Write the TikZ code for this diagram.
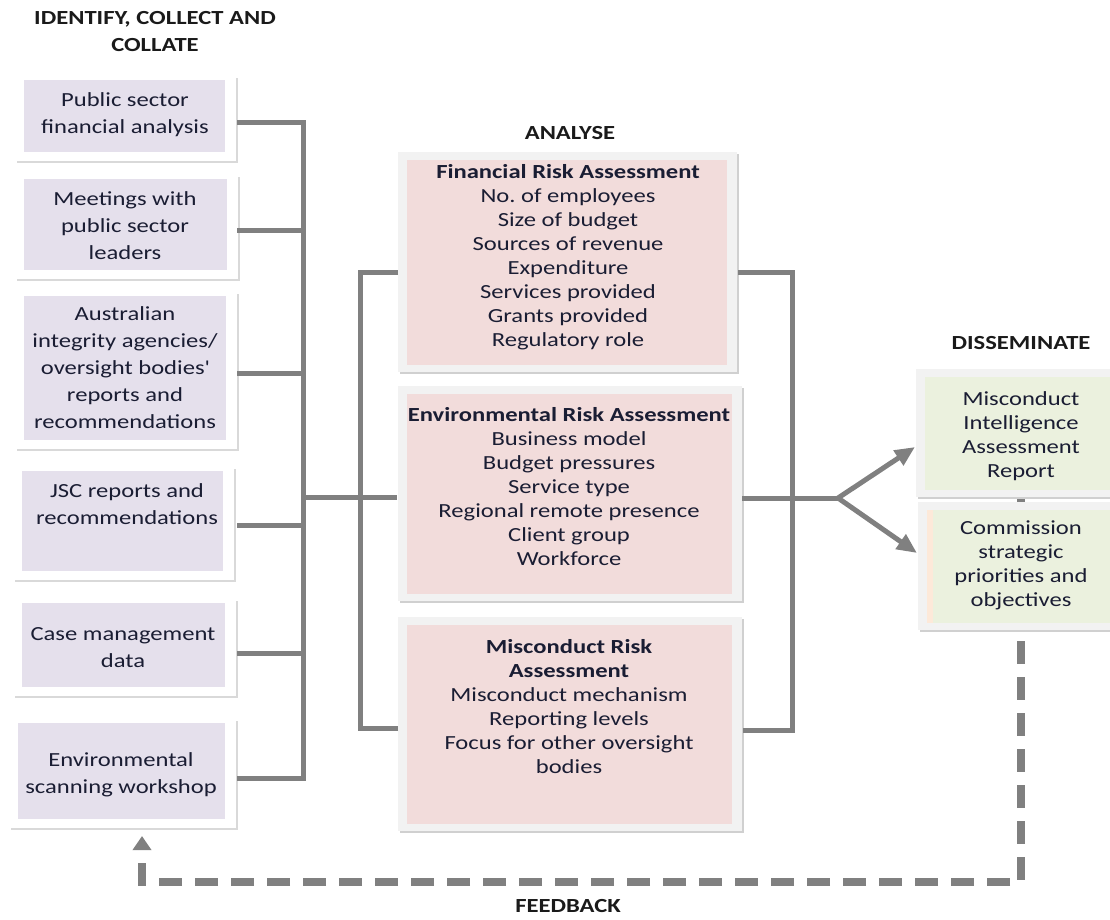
\documentclass[tikz,border=0pt]{standalone}
\usepackage{fontspec}
\setmainfont{Carlito}[FakeStretch=1.23]
\usetikzlibrary{arrows.meta,calc,backgrounds}
\pgfdeclarelayer{bottom}
\pgfsetlayers{bottom,background,main}
\definecolor{lav}{HTML}{E5E0EC}
\definecolor{pinkf}{HTML}{F2DCDB}
\definecolor{greenf}{HTML}{EBF1DE}
\definecolor{orangef}{HTML}{FDE9D9}
\definecolor{framec}{HTML}{F2F2F2}
\definecolor{shadc}{HTML}{D0D0D0}
\definecolor{lshadc}{HTML}{D9D9D9}
\definecolor{connc}{HTML}{808080}
\definecolor{txtc}{HTML}{1A1D33}
\definecolor{headc}{HTML}{1A1A1A}
\newcommand\myfrmbx[1]{%
  \fill[shadc] ($(#1.north west)+(-7,-6)$) rectangle ($(#1.south east)+(12,9)$);
  \fill[framec] ($(#1.north west)+(-9,-8)$) rectangle ($(#1.south east)+(10,7)$);}
\frenchspacing
\begin{document}
\begin{tikzpicture}[x=1pt,y=-1pt,
  every node/.style={inner sep=0pt,outer sep=0pt,text=txtc},
  lbox/.style={rectangle,fill=lav},
  mbox/.style={rectangle,fill=pinkf},
  dbox/.style={rectangle,fill=greenf},
  ltext/.style={align=center,font=\fontsize{20}{27}\selectfont},
  mtext/.style={align=center,font=\fontsize{20}{24}\selectfont},
  head/.style={align=center,font=\fontsize{20}{27}\selectfont\bfseries,text=headc},
  conn/.style={draw=connc,line width=5pt},
  lshadow/.style={draw=lshadc,line width=2pt},
  fb/.style={draw=connc,line width=8pt,dash pattern=on 23pt off 13pt,dash phase=1pt},
]
\useasboundingbox (0,0) rectangle (1110,919);

% headings
\node[head] (h1) at (155,31.5) {IDENTIFY, COLLECT AND\\COLLATE};
\node[head] (h2) at (570,133) {ANALYSE};
\node[head] (h3) at (1021,343) {DISSEMINATE};
\node[head] (h4) at (568,906) {FEEDBACK};

% left boxes
\node[lbox,minimum width=201pt,minimum height=72pt]  (b1) at (124.5,116) {};
\node[lbox,minimum width=203pt,minimum height=91pt]  (b2) at (125.5,224.5) {};
\node[lbox,minimum width=202pt,minimum height=144pt] (b3) at (125,368) {};
\node[lbox,minimum width=201pt,minimum height=100pt] (b4) at (122.5,521) {};
\node[lbox,minimum width=203pt,minimum height=84pt]  (b5) at (123.5,645) {};
\node[lbox,minimum width=207pt,minimum height=96pt]  (b6) at (121.5,771) {};

\node[ltext] (t1) at (125,115) {Public sector\\financial analysis};
\node[ltext] (t2) at (125,226) {Meetings with\\public sector\\leaders};
\node[ltext] (t3) at (125,368) {Australian\\integrity agencies/\\oversight bodies\textquotesingle\\reports and\\recommendations};
\node[ltext] (t4) at (127,504) {JSC reports and\\recommendations};
\node[ltext] (t5) at (123,648) {Case management\\data};
\node[ltext] (t6) at (121,775) {Environmental\\scanning workshop};

% middle boxes
\node[mbox,minimum width=320pt,minimum height=205pt] (f1) at (567,262.5) {};
\node[mbox,minimum width=325pt,minimum height=200pt] (f2) at (569.5,494) {};
\node[mbox,minimum width=325pt,minimum height=199pt] (f3) at (569.5,724.5) {};

\node[mtext] (m1) at (568,257) {\textbf{Financial Risk Assessment}\\No. of employees\\Size of budget\\Sources of revenue\\Expenditure\\Services provided\\Grants provided\\Regulatory role};
\node[mtext] (m2) at (569,487) {\textbf{Environmental Risk Assessment}\\Business model\\Budget pressures\\Service type\\Regional remote presence\\Client group\\Workforce};
\node[mtext] (m3) at (569,707) {\textbf{Misconduct Risk}\\\textbf{Assessment}\\Misconduct mechanism\\Reporting levels\\Focus for other oversight\\bodies};

% disseminate boxes
\node[dbox,minimum width=192pt,minimum height=113pt] (d1) at (1021,433.5) {};
\node[dbox,minimum width=188pt,minimum height=113pt] (d2) at (1021,566.5) {};
\fill[orangef] (d2.north west) rectangle ($(d2.south west)+(6,0)$);
\node[mtext] (e1) at (1021,436) {Misconduct\\Intelligence\\Assessment\\Report};
\node[mtext] (e2) at (1021,565) {Commission\\strategic\\priorities and\\objectives};

% frames and shadows
\begin{pgfonlayer}{background}
  \foreach \b in {b1,b2,b3,b4,b5,b6}{
    \draw[lshadow] ($(\b.north east)+(12,-2)$) |- ($(\b.south west)+(-7,10)$);
  }
  \myfrmbx{f1}\myfrmbx{f2}\myfrmbx{f3}
  \myfrmbx{d1}\myfrmbx{d2}
\end{pgfonlayer}

% left connectors
\coordinate (lj) at (303,497);
\draw[conn] ($(b1.east)+(12,6)$) -| (lj) |- ($(b6.east)+(12,7)$);
\draw[conn] ($(b2.east)+(10,5.5)$) -| (lj);
\draw[conn] ($(b3.east)+(11,5)$) -| (lj);
\draw[conn] ($(b4.east)+(14,4)$) -| (lj);
\draw[conn] ($(b5.east)+(12,8)$) -| (lj);
\draw[conn] (lj) -- ($(f2.west)+(-10,3)$);

% middle bus
\coordinate (mj) at (360,497);
\draw[conn] ($(f1.west)+(-9,9.5)$) -| (mj);
\draw[conn] ($(f3.west)+(-9,3.5)$) -| (mj);

% right bus
\coordinate (rj) at (792,498);
\coordinate (fork) at (838,498);
\draw[conn] ($(f1.east)+(11,9.5)$) -| (rj);
\draw[conn] ($(f3.east)+(11,5.5)$) -| (rj);
\draw[conn] ($(f2.east)+(10,4)$) -- (fork);
\draw[conn,-{Triangle[length=20pt,width=17pt]}] (fork) -- ($(d1.west)+(-10,13.5)$);
\draw[conn,-{Triangle[length=20pt,width=17pt]}] (fork) -- ($(d2.west)+(-10,-13.5)$);

% feedback
\begin{pgfonlayer}{bottom}
  \draw[fb,-{Triangle[length=14pt,width=18pt]}] ($(d1.south)+(0,8)$) |- ($(b6.south)+(20.5,63)$) -- ($(b6.south)+(20.5,17)$);
\end{pgfonlayer}
\end{tikzpicture}
\end{document}
